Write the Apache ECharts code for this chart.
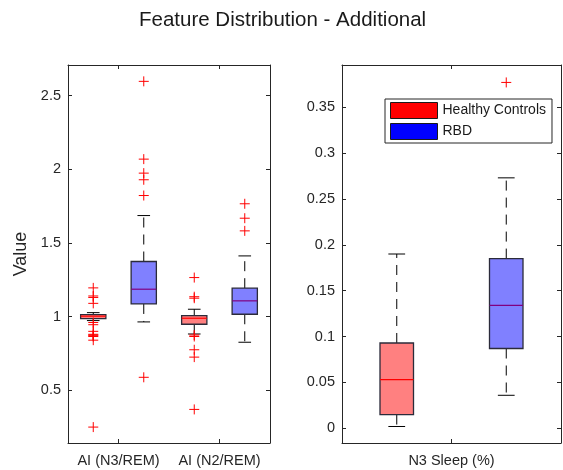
<!DOCTYPE html>
<html>
<head>
<meta charset="utf-8">
<title>Feature Distribution - Additional</title>
<script src="https://cdn.jsdelivr.net/npm/echarts@6/dist/echarts.min.js"></script>
<style>
  html, body { margin: 0; padding: 0; background: #fff; }
  #chart { width: 563px; height: 470px; }
</style>
</head>
<body>
<div id="chart"></div>
<script>
// ---- data ----
var groupNames = ["Healthy Controls", "RBD"];
var leftCategories = ["AI (N3/REM)", "AI (N2/REM)"];
var rightCategories = ["N3 Sleep (%)"];

// each box: [whiskerLow, q1, median, q3, whiskerHigh]
var hcLeftStats = [
  [0.973, 0.986, 1.003, 1.014, 1.027],
  [0.882, 0.948, 0.989, 1.007, 1.05]
];
var rbdLeftStats = [
  [0.964, 1.086, 1.186, 1.374, 1.686],
  [0.826, 1.016, 1.107, 1.193, 1.412]
];
var hcRightStats = [[0.002, 0.015, 0.053, 0.093, 0.19]];
var rbdRightStats = [[0.036, 0.087, 0.134, 0.185, 0.273]];

// outliers per category
var hcLeftOutliers = [
  [1.195, 1.14, 1.13, 1.09, 0.96, 0.945, 0.9, 0.88, 0.875, 0.87, 0.865, 0.84, 0.25],
  [1.265, 1.135, 1.125, 0.875, 0.865, 0.775, 0.725, 0.37]
];
var rbdLeftOutliers = [
  [2.597, 2.069, 1.974, 1.929, 1.822, 0.588],
  [1.766, 1.668, 1.582]
];
var hcRightOutliers = [[]];
var rbdRightOutliers = [[0.377]];

var leftTicks = [0.5, 1, 1.5, 2, 2.5];
var rightTicks = [0, 0.05, 0.1, 0.15, 0.2, 0.25, 0.3, 0.35];

// ---- styling ----
var FONT = "'Liberation Sans', Arial, Helvetica, sans-serif";
var AXIS_COLOR = "#262626";
var HC_FILL = "#ff8080";
var RBD_FILL = "#8080ff";

function statsData(stats) {
  return stats.map(function (s, i) { return [i].concat(s); });
}
function outlierData(list) {
  var out = [];
  list.forEach(function (vals, i) {
    vals.forEach(function (v) { out.push([i, v]); });
  });
  return out;
}

// box + dashed whiskers + solid caps, offset inside the category band
function boxSeries(name, axisIdx, stats, offset, widthFrac, fill, medianColor) {
  return {
    name: name,
    type: "custom",
    xAxisIndex: axisIdx,
    yAxisIndex: axisIdx,
    itemStyle: { color: fill },
    encode: { x: 0, y: [1, 2, 3, 4, 5] },
    data: statsData(stats),
    renderItem: function (params, api) {
      var cat = api.value(0);
      var band = api.size([1, 0])[0];
      var cx = api.coord([cat, 0])[0] + offset * band;
      var half = (widthFrac * band) / 2;
      var capHalf = half / 2;
      var yLo = api.coord([cat, api.value(1)])[1];
      var yQ1 = api.coord([cat, api.value(2)])[1];
      var yMed = api.coord([cat, api.value(3)])[1];
      var yQ3 = api.coord([cat, api.value(4)])[1];
      var yHi = api.coord([cat, api.value(5)])[1];
      var dash = { stroke: "#000", lineWidth: 1, lineDash: [10, 7] };
      var solid = { stroke: "#000", lineWidth: 1 };
      return {
        type: "group",
        children: [
          { type: "line", shape: { x1: cx, y1: yQ3, x2: cx, y2: yHi }, style: dash },
          { type: "line", shape: { x1: cx, y1: yQ1, x2: cx, y2: yLo }, style: dash },
          { type: "line", shape: { x1: cx - capHalf, y1: yHi, x2: cx + capHalf, y2: yHi }, style: solid },
          { type: "line", shape: { x1: cx - capHalf, y1: yLo, x2: cx + capHalf, y2: yLo }, style: solid },
          {
            type: "rect",
            shape: { x: cx - half, y: yQ3, width: half * 2, height: yQ1 - yQ3 },
            style: { fill: fill, stroke: "#2b2b3a", lineWidth: 1.3 }
          },
          {
            type: "line",
            shape: { x1: cx - half, y1: yMed, x2: cx + half, y2: yMed },
            style: { stroke: medianColor, lineWidth: 1.2 }
          }
        ]
      };
    }
  };
}

// red "+" markers
function outlierSeries(name, axisIdx, list, offset) {
  return {
    name: name,
    type: "custom",
    xAxisIndex: axisIdx,
    yAxisIndex: axisIdx,
    encode: { x: 0, y: 1 },
    data: outlierData(list),
    renderItem: function (params, api) {
      var cat = api.value(0);
      var band = api.size([1, 0])[0];
      var p = api.coord([cat, api.value(1)]);
      var x = p[0] + offset * band;
      var y = p[1];
      var st = { stroke: "#ff0000", lineWidth: 1 };
      return {
        type: "group",
        children: [
          { type: "line", shape: { x1: x - 5, y1: y, x2: x + 5, y2: y }, style: st },
          { type: "line", shape: { x1: x, y1: y - 5, x2: x, y2: y + 5 }, style: st }
        ]
      };
    }
  };
}

function catAxis(gridIdx, cats, pos, showLabel) {
  return {
    type: "category",
    gridIndex: gridIdx,
    position: pos,
    data: cats,
    boundaryGap: true,
    axisLine: { show: true, onZero: false, lineStyle: { color: AXIS_COLOR, width: 1 } },
    axisTick: { show: true, inside: true, alignWithLabel: true, interval: 0, length: 4, lineStyle: { color: AXIS_COLOR } },
    axisLabel: { show: showLabel, interval: 0, hideOverlap: false, color: AXIS_COLOR, fontFamily: FONT, fontSize: 14.5, margin: 10 },
    splitLine: { show: false }
  };
}

function valAxis(gridIdx, min, max, ticks, pos, showLabel, name) {
  return {
    type: "value",
    gridIndex: gridIdx,
    position: pos,
    min: min,
    max: max,
    name: name || "",
    nameLocation: "middle",
    nameRotate: 90,
    nameGap: 38,
    nameTextStyle: { color: AXIS_COLOR, fontFamily: FONT, fontSize: 18 },
    axisLine: { show: true, onZero: false, lineStyle: { color: AXIS_COLOR, width: 1 } },
    axisTick: { show: true, inside: true, length: 4, customValues: ticks, lineStyle: { color: AXIS_COLOR } },
    axisLabel: { show: showLabel, customValues: ticks, color: AXIS_COLOR, fontFamily: FONT, fontSize: 14.5, margin: 7 },
    splitLine: { show: false }
  };
}

var chart = echarts.init(document.getElementById("chart"), null, { renderer: "canvas" });

chart.setOption({
  animation: false,
  backgroundColor: "#fff",
  title: {
    text: "Feature Distribution - Additional",
    left: 134,
    top: 5,
    textStyle: { color: "#1a1a1a", fontFamily: FONT, fontSize: 20.5, fontWeight: "normal" }
  },
  legend: {
    data: [
      { name: groupNames[0], itemStyle: { color: "#ff0000", borderColor: "#1a1a1a", borderWidth: 1 } },
      { name: groupNames[1], itemStyle: { color: "#0000ff", borderColor: "#1a1a1a", borderWidth: 1 } }
    ],
    orient: "vertical",
    left: 385,
    top: 99,
    icon: "rect",
    itemWidth: 47,
    itemHeight: 16,
    itemGap: 4,
    padding: [3, 6, 3, 5],
    backgroundColor: "#fff",
    borderColor: AXIS_COLOR,
    borderWidth: 1,
    borderRadius: 0,
    selectedMode: false,
    textStyle: { color: "#1a1a1a", fontFamily: FONT, fontSize: 14 }
  },
  grid: [
    { left: 68, top: 65, width: 202, height: 378 },
    { left: 342, top: 65, width: 219, height: 378 }
  ],
  xAxis: [
    catAxis(0, leftCategories, "bottom", true),
    catAxis(0, leftCategories, "top", false),
    catAxis(1, rightCategories, "bottom", true),
    catAxis(1, rightCategories, "top", false)
  ],
  yAxis: [
    valAxis(0, 0.142, 2.708, leftTicks, "left", true, "Value"),
    valAxis(0, 0.142, 2.708, leftTicks, "right", false),
    valAxis(1, -0.016, 0.396, rightTicks, "left", true),
    valAxis(1, -0.016, 0.396, rightTicks, "right", false)
  ],
  series: [
    boxSeries(groupNames[0], 0, hcLeftStats, -0.25, 0.25, HC_FILL, "#ff0000"),
    boxSeries(groupNames[1], 0, rbdLeftStats, 0.25, 0.25, RBD_FILL, "#800080"),
    outlierSeries(groupNames[0], 0, hcLeftOutliers, -0.25),
    outlierSeries(groupNames[1], 0, rbdLeftOutliers, 0.25),
    boxSeries(groupNames[0], 2, hcRightStats, -0.25, 0.153, HC_FILL, "#ff0000"),
    boxSeries(groupNames[1], 2, rbdRightStats, 0.25, 0.153, RBD_FILL, "#800080"),
    outlierSeries(groupNames[0], 2, hcRightOutliers, -0.25),
    outlierSeries(groupNames[1], 2, rbdRightOutliers, 0.25)
  ]
});
</script>
</body>
</html>
